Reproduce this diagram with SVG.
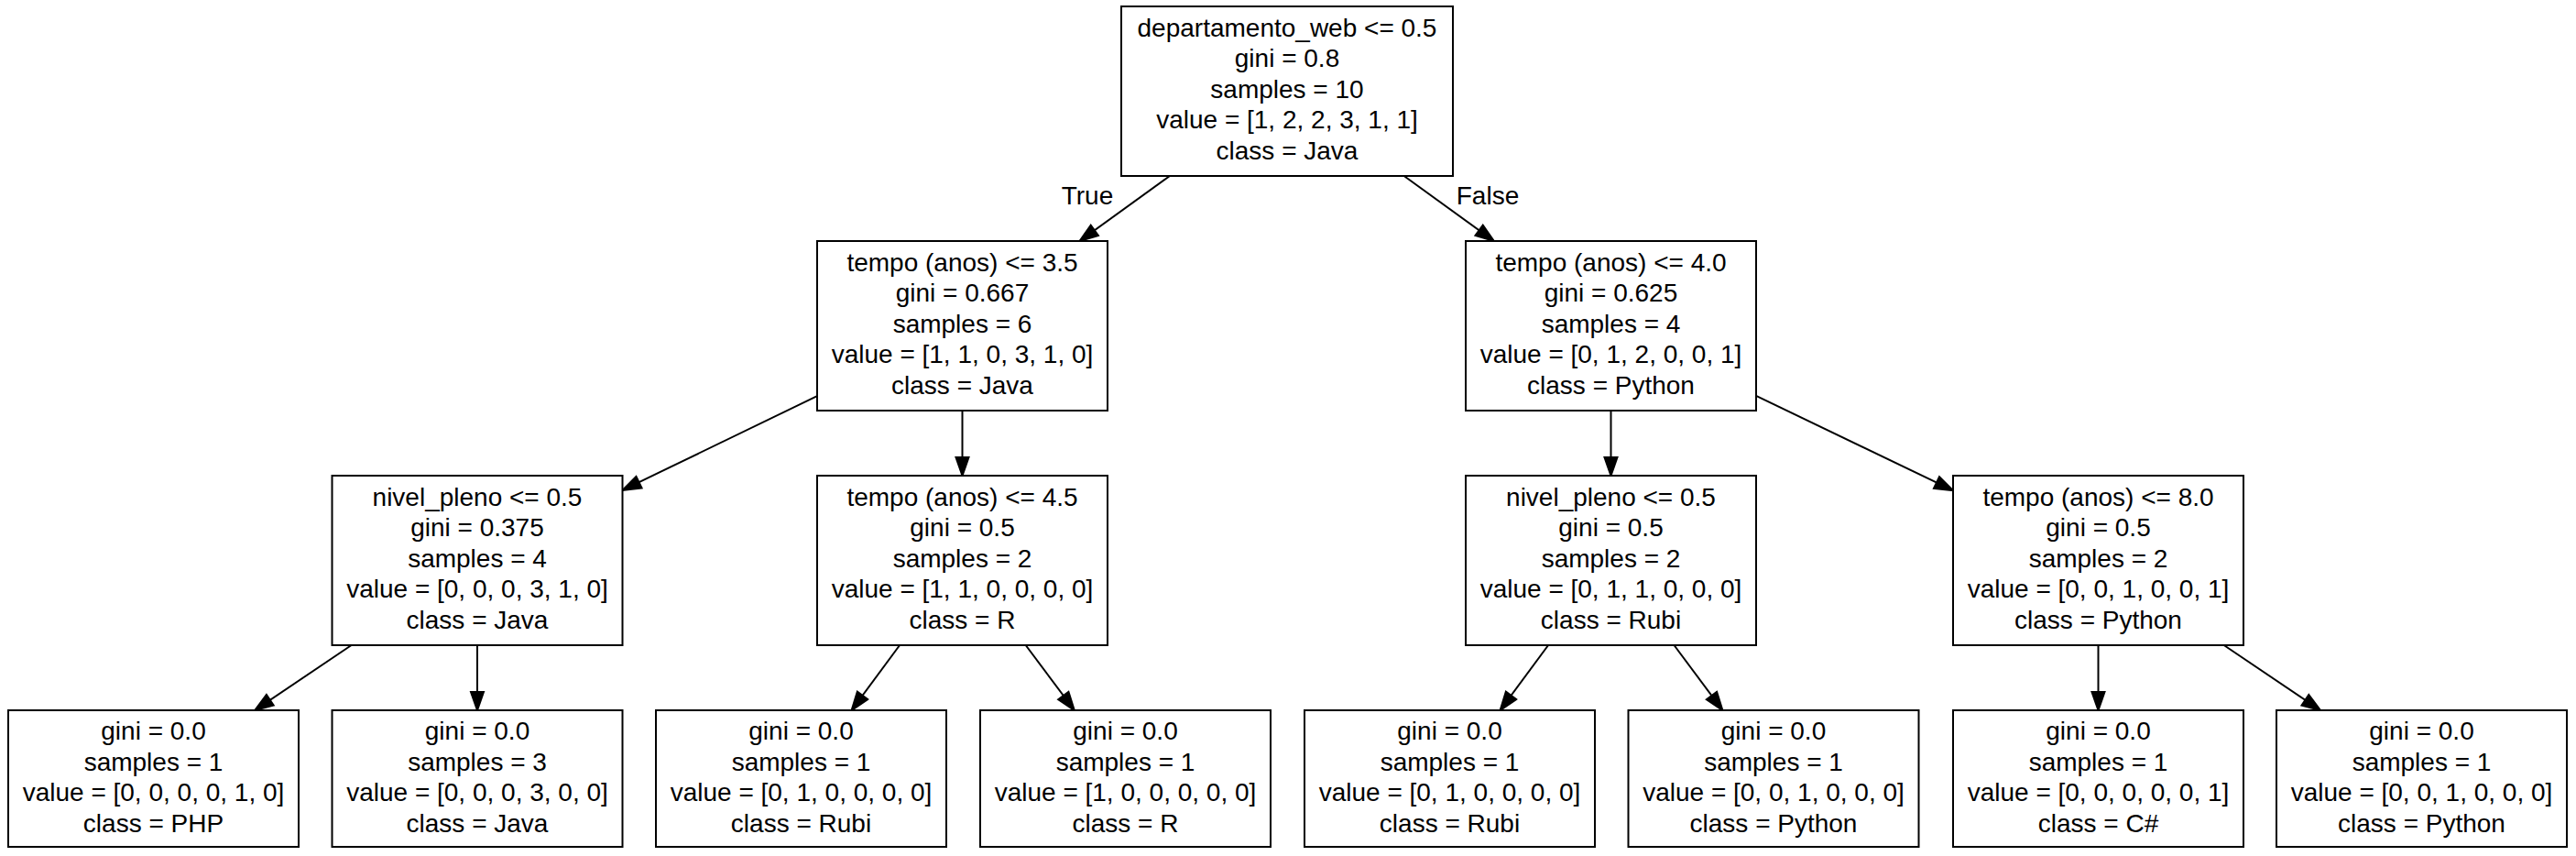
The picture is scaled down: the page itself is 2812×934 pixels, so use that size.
<svg xmlns="http://www.w3.org/2000/svg" width="2812" height="934" viewBox="0 0 2812 934">
<style>
.box{fill:#fff;stroke:#000;stroke-width:2}
.t{font-family:"Liberation Sans",Arial,Helvetica,sans-serif;font-size:28px;text-anchor:middle;fill:#000}
.e{stroke:#000;stroke-width:2;fill:none;marker-end:url(#ah)}
</style>
<defs>
<marker id="ah" markerUnits="userSpaceOnUse" markerWidth="22" markerHeight="16" refX="20" refY="7" orient="auto" overflow="visible"><path d="M0,0 L20,7 L0,14 z" fill="#000" stroke="#000" stroke-width="2"/></marker>
</defs>
<rect x="0" y="0" width="2812" height="934" fill="#fff"/>
<g id="connectors">
<path class="e" d="M1276.9,192 L1178.6,263"/>
<path class="e" d="M1532.7,192 L1630.8,263"/>
<path class="e" d="M892,432.1 L679.5,534.9"/>
<path class="e" d="M1050.5,448 L1050.5,519"/>
<path class="e" d="M1758.5,448 L1758.5,519"/>
<path class="e" d="M1917,431.8 L2132,535.2"/>
<path class="e" d="M383.6,704 L278.2,775"/>
<path class="e" d="M521,704 L521,775"/>
<path class="e" d="M982.1,704 L929.6,775"/>
<path class="e" d="M1119.7,704 L1172.8,775"/>
<path class="e" d="M1690.1,704 L1637.6,775"/>
<path class="e" d="M1827.5,704 L1880.4,775"/>
<path class="e" d="M2290.5,704 L2290.5,775"/>
<path class="e" d="M2427.7,704 L2533,775"/>
<text class="t" x="1187" y="222.5">True</text>
<text class="t" x="1624" y="222.5">False</text>
</g>
<g id="node0"><rect class="box" x="1224" y="7" width="362" height="185"/><text class="t"><tspan x="1405" y="39.5">departamento_web &lt;= 0.5</tspan><tspan x="1405" y="73">gini = 0.8</tspan><tspan x="1405" y="106.5">samples = 10</tspan><tspan x="1405" y="140">value = [1, 2, 2, 3, 1, 1]</tspan><tspan x="1405" y="173.5">class = Java</tspan></text></g>
<g id="node1"><rect class="box" x="892" y="263" width="317" height="185"/><text class="t"><tspan x="1050.5" y="295.5">tempo (anos) &lt;= 3.5</tspan><tspan x="1050.5" y="329">gini = 0.667</tspan><tspan x="1050.5" y="362.5">samples = 6</tspan><tspan x="1050.5" y="396">value = [1, 1, 0, 3, 1, 0]</tspan><tspan x="1050.5" y="429.5">class = Java</tspan></text></g>
<g id="node2"><rect class="box" x="1600" y="263" width="317" height="185"/><text class="t"><tspan x="1758.5" y="295.5">tempo (anos) &lt;= 4.0</tspan><tspan x="1758.5" y="329">gini = 0.625</tspan><tspan x="1758.5" y="362.5">samples = 4</tspan><tspan x="1758.5" y="396">value = [0, 1, 2, 0, 0, 1]</tspan><tspan x="1758.5" y="429.5">class = Python</tspan></text></g>
<g id="node3"><rect class="box" x="362.5" y="519" width="317" height="185"/><text class="t"><tspan x="521" y="551.5">nivel_pleno &lt;= 0.5</tspan><tspan x="521" y="585">gini = 0.375</tspan><tspan x="521" y="618.5">samples = 4</tspan><tspan x="521" y="652">value = [0, 0, 0, 3, 1, 0]</tspan><tspan x="521" y="685.5">class = Java</tspan></text></g>
<g id="node4"><rect class="box" x="892" y="519" width="317" height="185"/><text class="t"><tspan x="1050.5" y="551.5">tempo (anos) &lt;= 4.5</tspan><tspan x="1050.5" y="585">gini = 0.5</tspan><tspan x="1050.5" y="618.5">samples = 2</tspan><tspan x="1050.5" y="652">value = [1, 1, 0, 0, 0, 0]</tspan><tspan x="1050.5" y="685.5">class = R</tspan></text></g>
<g id="node5"><rect class="box" x="1600" y="519" width="317" height="185"/><text class="t"><tspan x="1758.5" y="551.5">nivel_pleno &lt;= 0.5</tspan><tspan x="1758.5" y="585">gini = 0.5</tspan><tspan x="1758.5" y="618.5">samples = 2</tspan><tspan x="1758.5" y="652">value = [0, 1, 1, 0, 0, 0]</tspan><tspan x="1758.5" y="685.5">class = Rubi</tspan></text></g>
<g id="node6"><rect class="box" x="2132" y="519" width="317" height="185"/><text class="t"><tspan x="2290.5" y="551.5">tempo (anos) &lt;= 8.0</tspan><tspan x="2290.5" y="585">gini = 0.5</tspan><tspan x="2290.5" y="618.5">samples = 2</tspan><tspan x="2290.5" y="652">value = [0, 0, 1, 0, 0, 1]</tspan><tspan x="2290.5" y="685.5">class = Python</tspan></text></g>
<g id="leaf1"><rect class="box" x="9" y="775" width="317" height="149"/><text class="t"><tspan x="167.5" y="807">gini = 0.0</tspan><tspan x="167.5" y="841">samples = 1</tspan><tspan x="167.5" y="874">value = [0, 0, 0, 0, 1, 0]</tspan><tspan x="167.5" y="908">class = PHP</tspan></text></g>
<g id="leaf2"><rect class="box" x="362.5" y="775" width="317" height="149"/><text class="t"><tspan x="521" y="807">gini = 0.0</tspan><tspan x="521" y="841">samples = 3</tspan><tspan x="521" y="874">value = [0, 0, 0, 3, 0, 0]</tspan><tspan x="521" y="908">class = Java</tspan></text></g>
<g id="leaf3"><rect class="box" x="716" y="775" width="317" height="149"/><text class="t"><tspan x="874.5" y="807">gini = 0.0</tspan><tspan x="874.5" y="841">samples = 1</tspan><tspan x="874.5" y="874">value = [0, 1, 0, 0, 0, 0]</tspan><tspan x="874.5" y="908">class = Rubi</tspan></text></g>
<g id="leaf4"><rect class="box" x="1070" y="775" width="317" height="149"/><text class="t"><tspan x="1228.5" y="807">gini = 0.0</tspan><tspan x="1228.5" y="841">samples = 1</tspan><tspan x="1228.5" y="874">value = [1, 0, 0, 0, 0, 0]</tspan><tspan x="1228.5" y="908">class = R</tspan></text></g>
<g id="leaf5"><rect class="box" x="1424" y="775" width="317" height="149"/><text class="t"><tspan x="1582.5" y="807">gini = 0.0</tspan><tspan x="1582.5" y="841">samples = 1</tspan><tspan x="1582.5" y="874">value = [0, 1, 0, 0, 0, 0]</tspan><tspan x="1582.5" y="908">class = Rubi</tspan></text></g>
<g id="leaf6"><rect class="box" x="1777.5" y="775" width="317" height="149"/><text class="t"><tspan x="1936" y="807">gini = 0.0</tspan><tspan x="1936" y="841">samples = 1</tspan><tspan x="1936" y="874">value = [0, 0, 1, 0, 0, 0]</tspan><tspan x="1936" y="908">class = Python</tspan></text></g>
<g id="leaf7"><rect class="box" x="2132" y="775" width="317" height="149"/><text class="t"><tspan x="2290.5" y="807">gini = 0.0</tspan><tspan x="2290.5" y="841">samples = 1</tspan><tspan x="2290.5" y="874">value = [0, 0, 0, 0, 0, 1]</tspan><tspan x="2290.5" y="908">class = C#</tspan></text></g>
<g id="leaf8"><rect class="box" x="2485" y="775" width="317" height="149"/><text class="t"><tspan x="2643.5" y="807">gini = 0.0</tspan><tspan x="2643.5" y="841">samples = 1</tspan><tspan x="2643.5" y="874">value = [0, 0, 1, 0, 0, 0]</tspan><tspan x="2643.5" y="908">class = Python</tspan></text></g>
</svg>
